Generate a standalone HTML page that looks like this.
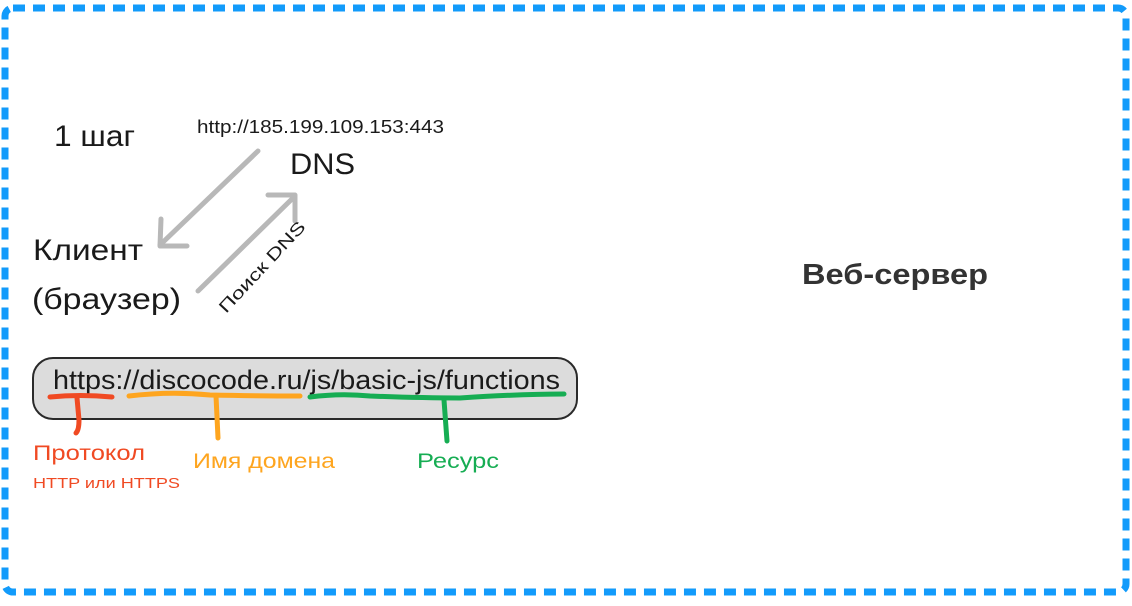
<!DOCTYPE html>
<html><head><meta charset="utf-8"><style>
html,body{margin:0;padding:0;background:#fff;}
svg{display:block;font-family:"Liberation Sans",sans-serif;}
</style></head><body>
<svg width="1132" height="606" viewBox="0 0 1132 606" xmlns="http://www.w3.org/2000/svg">
<rect x="5" y="8" width="1121" height="584" rx="8" fill="none" stroke="#129bfb" stroke-width="7" stroke-dasharray="12 8"/>
<text x="54" y="146" font-size="30" fill="#1a1a1a" textLength="81" lengthAdjust="spacingAndGlyphs">1 шаг</text>
<text x="197" y="133" font-size="18" fill="#1a1a1a" textLength="247" lengthAdjust="spacingAndGlyphs">http://185.199.109.153:443</text>
<text x="290" y="174" font-size="30" fill="#1a1a1a" textLength="65" lengthAdjust="spacingAndGlyphs">DNS</text>
<text x="33" y="260" font-size="30" fill="#1a1a1a" textLength="110" lengthAdjust="spacingAndGlyphs">Клиент</text>
<text x="32" y="309" font-size="30" fill="#1a1a1a" textLength="149" lengthAdjust="spacingAndGlyphs">(браузер)</text>
<text x="802" y="284" font-size="29" font-weight="bold" fill="#333" textLength="186" lengthAdjust="spacingAndGlyphs">Веб-сервер</text>
<g stroke="#b8b8b8" stroke-width="5" fill="none" stroke-linecap="round" stroke-linejoin="round">
<line x1="258" y1="151" x2="160" y2="245"/>
<polyline points="161,219 160,246 187,246"/>
<line x1="198" y1="291" x2="295" y2="196"/>
<polyline points="268,195 295,195 295,221"/>
</g>
<text x="0" y="0" font-size="17" fill="#1a1a1a" textLength="118" lengthAdjust="spacingAndGlyphs" transform="translate(226,314) rotate(-47)">Поиск DNS</text>
<rect x="33" y="358" width="544" height="61" rx="20" fill="#dcdcdc" stroke="#2a2a2a" stroke-width="2"/>
<text x="53" y="389" font-size="27" fill="#1a1a1a" textLength="507" lengthAdjust="spacingAndGlyphs">https://discocode.ru/js/basic-js/functions</text>
<g fill="none" stroke-linecap="round" stroke-width="5">
<path d="M50,397 Q80,394 112,397" stroke="#f04a23"/>
<path d="M77,398 L79,420 Q79,430 76,433" stroke="#f04a23"/>
<path d="M129,396 Q170,391 210,395 Q260,396 300,396" stroke="#fea51f"/>
<path d="M216,396 L218,438" stroke="#fea51f"/>
<path d="M310,397 Q340,393 370,396 Q420,398 460,398 Q520,394 564,394" stroke="#16ad53"/>
<path d="M444,400 L447,441" stroke="#16ad53"/>
</g>
<text x="33" y="460" font-size="21" fill="#f04a23" textLength="112" lengthAdjust="spacingAndGlyphs">Протокол</text>
<text x="33" y="488" font-size="15" fill="#f04a23" textLength="147" lengthAdjust="spacingAndGlyphs">HTTP или HTTPS</text>
<text x="193" y="468" font-size="21" fill="#fea51f" textLength="142" lengthAdjust="spacingAndGlyphs">Имя домена</text>
<text x="417" y="468" font-size="21" fill="#16ad53" textLength="82" lengthAdjust="spacingAndGlyphs">Ресурс</text>
</svg>
</body></html>
